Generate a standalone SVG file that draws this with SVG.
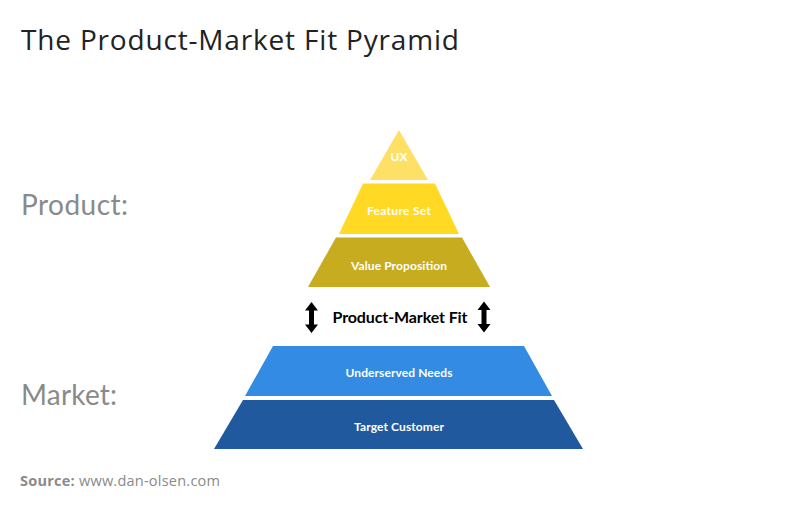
<svg xmlns="http://www.w3.org/2000/svg" xmlns:xlink="http://www.w3.org/1999/xlink" width="797" height="510" viewBox="0 0 797 510">
<style>
.title{font-family:"Open Sans","Liberation Sans",sans-serif;font-size:28px;fill:#222}
.side{font-family:Lato,"Liberation Sans",sans-serif;font-weight:400;font-size:28px;fill:#8a8a8a}
.lbl{font-family:Lato,"Liberation Sans",sans-serif;font-weight:700;font-size:12px;fill:#fff;text-anchor:middle}
.pmf{font-family:Lato,"Liberation Sans",sans-serif;font-weight:700;font-size:16px;fill:#000;text-anchor:middle}
.src{font-family:"Open Sans","Liberation Sans",sans-serif;font-size:14.5px;fill:#8a8a8a}
</style>
<defs>
<path id="dbl" d="M0,-15.5 L6.5,-7 L2.5,-7 L2.5,7 L6.5,7 L0,15.5 L-6.5,7 L-2.5,7 L-2.5,-7 L-6.5,-7 Z" fill="#000"/>
</defs>
<rect width="797" height="510" fill="#fff"/>
<text class="title" x="21" y="50" textLength="438" lengthAdjust="spacing">The Product-Market Fit Pyramid</text>
<text class="side" x="21" y="215" textLength="107" lengthAdjust="spacing">Product:</text>
<text class="side" x="21" y="405" textLength="96" lengthAdjust="spacing">Market:</text>
<g id="ux"><polygon points="399,130 428,180 370,180" fill="#FFE066"/><text class="lbl" x="399" y="161" textLength="17">UX</text></g>
<g id="feature-set"><polygon points="363,183.5 435,183.5 459,234 339,234" fill="#FFD923"/><text class="lbl" x="399" y="215" textLength="64">Feature Set</text></g>
<g id="value-proposition"><polygon points="336,237.5 462,237.5 490,287 308,287" fill="#C8AC1F"/><text class="lbl" x="399" y="270" textLength="96">Value Proposition</text></g>
<g id="underserved-needs"><polygon points="273,346 524,346 552,396 245,396" fill="#348BE3"/><text class="lbl" x="399" y="377" textLength="107">Underserved Needs</text></g>
<g id="target-customer"><polygon points="243,400 554,400 583,449 214,449" fill="#21599F"/><text class="lbl" x="399" y="431" textLength="90">Target Customer</text></g>
<g id="connectors">
<use xlink:href="#dbl" x="311.5" y="317.5"/>
<use xlink:href="#dbl" x="484" y="317"/>
</g>
<g id="product-market-fit"><text class="pmf" x="400" y="323" textLength="135">Product-Market Fit</text></g>
<text class="src" x="20" y="486" textLength="200" lengthAdjust="spacing"><tspan font-weight="700">Source:</tspan> www.dan-olsen.com</text>
</svg>
